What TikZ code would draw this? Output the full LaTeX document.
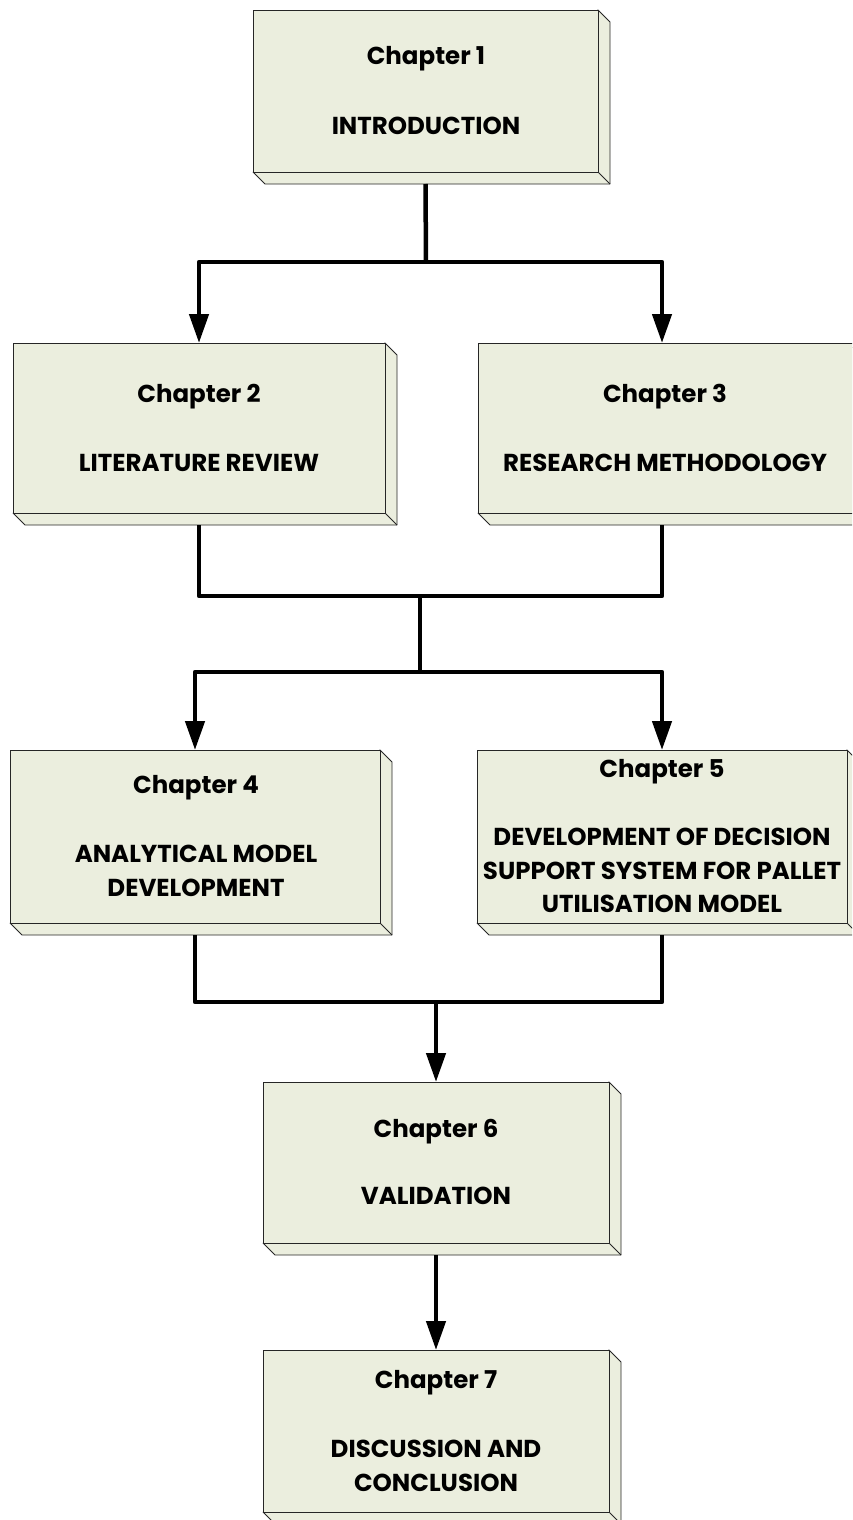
\documentclass[tikz,border=0pt]{standalone}
\usepackage{fontspec}
\setmainfont{Poppins}
\usetikzlibrary{arrows.meta,calc}
\definecolor{boxfill}{RGB}{235,238,222}
\newcommand\dd{12}
\tikzset{
  face/.style={draw=black!85, line width=0.8pt, fill=boxfill, line join=bevel},
  front/.style={face, rectangle, inner sep=0pt, outer sep=0pt},
  lbl/.style={anchor=base, inner sep=0pt, font=\fontsize{24.5}{29}\selectfont\bfseries},
  wire/.style={line width=4.5pt, line join=round},
  arr/.style={wire, -{Triangle[length=29pt,width=19pt]}}
}
% 3-D chapter box: name, left, top, right, bottom of the front face
\newcommand\chapterbox[5]{%
  \filldraw[face] (#4,#3) -- ({#4+\dd},{#3+\dd}) -- ({#4+\dd},{#5+\dd})
     -- ({#2+\dd},{#5+\dd}) -- (#2,#5) -- cycle;
  \draw[face, fill=none] (#4,#5) -- ({#4+\dd},{#5+\dd});
  \node[front, minimum width={(#4-#2)*1pt}, minimum height={(#5-#3)*1pt}]
     (#1) at ({(#2+#4)/2},{(#3+#5)/2}) {};
}
\begin{document}
\begin{tikzpicture}[x=1pt, y=-1pt]
\useasboundingbox (0,0) rectangle (852,1520);
\clip (0,0) rectangle (852,1520);

% boxes
\chapterbox{c1}{253}{10}{598}{172}
\chapterbox{c2}{13}{343}{385}{513}
\chapterbox{c3}{478}{343}{862}{513}
\chapterbox{c4}{10}{750}{380}{923}
\chapterbox{c5}{477}{750}{847}{923}
\chapterbox{c6}{263}{1082}{609}{1243}
\chapterbox{c7}{263}{1350}{609}{1512}

% labels
\node[lbl] (t1a) at (426,64)  {Chapter 1};
\node[lbl] (t1b) at (426,134) {INTRODUCTION};
\node[lbl] (t2a) at (199,402) {Chapter 2};
\node[lbl] (t2b) at (199,471) {LITERATURE REVIEW};
\node[lbl] (t3a) at (665,402) {Chapter 3};
\node[lbl] (t3b) at (665,471) {RESEARCH METHODOLOGY};
\node[lbl] (t4a) at (196,793) {Chapter 4};
\node[lbl] (t4b) at (196,862) {ANALYTICAL MODEL};
\node[lbl] (t4c) at (196,896) {DEVELOPMENT};
\node[lbl] (t5a) at (662,777) {Chapter 5};
\node[lbl] (t5b) at (662,845) {DEVELOPMENT OF DECISION};
\node[lbl] (t5c) at (662,879) {SUPPORT SYSTEM FOR PALLET};
\node[lbl] (t5d) at (662,912) {UTILISATION MODEL};
\node[lbl] (t6a) at (436,1137) {Chapter 6};
\node[lbl] (t6b) at (436,1204) {VALIDATION};
\node[lbl] (t7a) at (436,1388) {Chapter 7};
\node[lbl] (t7b) at (436,1457) {DISCUSSION AND};
\node[lbl] (t7c) at (436,1491) {CONCLUSION};

% bottom ends of the boxes
\coordinate (c1b) at ($(c1.south)+(0,\dd)$);
\coordinate (c2b) at ($(c2.south)+(0,\dd)$);
\coordinate (c3b) at ($(c5.south |- c3.south)+(0,\dd)$);
\coordinate (c4b) at ($(c4.south)+(0,\dd)$);
\coordinate (c5b) at ($(c5.south)+(0,\dd)$);
\coordinate (c6b) at ($(c6.south)+(0,\dd)$);

% junctions
\coordinate (j1) at (426,262);
\coordinate (j2) at (420,596);
\coordinate (j3) at (420,672);
\coordinate (j4) at (436,1002);

% connectors
\draw[wire] (c1b) -- (j1);
\draw[arr] (j1) -| (c2.north);
\draw[arr] (j1) -| (c5.north |- c3.north);

\draw[wire] (c2b) |- (j2) -| (c3b);
\draw[wire] (j2) -- (j3);
\draw[arr] (j3) -| (c4.north);
\draw[arr] (j3) -| (c5.north);

\draw[wire] (c4b) |- (j4) -| (c5b);
\draw[arr] (j4) -- (c6.north);

\draw[arr] (c6b) -- (c7.north);
\end{tikzpicture}
\end{document}
